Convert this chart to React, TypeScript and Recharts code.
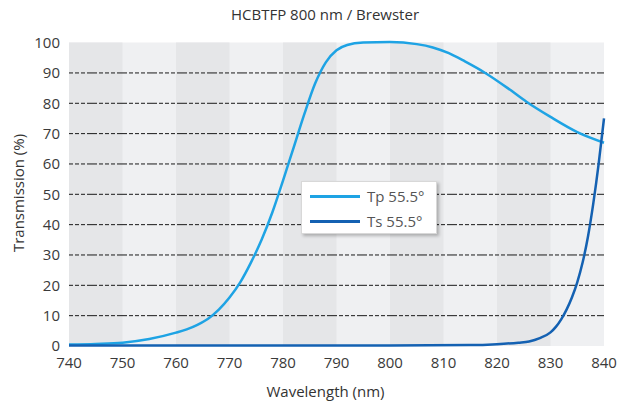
import { LineChart, Line, XAxis, YAxis, ReferenceArea, ReferenceLine, Label } from 'recharts';

const xTicks = [740, 750, 760, 770, 780, 790, 800, 810, 820, 830, 840];
const yTicks = [0, 10, 20, 30, 40, 50, 60, 70, 80, 90, 100];
const gridValues = [10, 20, 30, 40, 50, 60, 70, 80, 90];
const darkBands = [
  [740, 750],
  [760, 770],
  [780, 790],
  [800, 810],
  [820, 830],
];

const tpWavelength = [740, 745, 750, 755, 760, 762, 764, 766, 768, 770, 772, 774, 776, 778, 780, 782, 784, 786, 788, 790, 792, 795, 800, 805, 808, 811, 814, 817.8, 822, 825.5, 830, 835, 840];
const tpValues = [0.5, 0.7, 1.1, 2.3, 4.4, 5.5, 7, 9, 12, 16, 21, 27.5, 35, 44, 54.5, 65.5, 76.5, 86.5, 93.5, 97.5, 99.2, 100, 100.2, 99.5, 98.4, 96.5, 93.8, 90, 85, 80.5, 75.5, 70.5, 67];

const tsWavelength = [740, 760, 780, 800, 815, 820, 824, 826, 828, 830, 831, 832, 833, 834, 835, 836, 837, 838, 839, 840];
const tsValues = [0.2, 0.2, 0.2, 0.2, 0.3, 0.6, 1.1, 1.5, 2.6, 4.5, 6.3, 8.8, 12, 16, 21, 27.5, 36, 47, 60, 75];

const tpData = tpWavelength.map((w, i) => ({ w, v: tpValues[i] }));
const tsData = tsWavelength.map((w, i) => ({ w, v: tsValues[i] }));

const TP_COLOR = '#1ea3e4';
const TS_COLOR = '#1461b2';
const FONT = '"Open Sans", sans-serif';

export default function App() {
  return (
    <div style={{ position: 'absolute', left: 0, top: 0, width: 620, height: 405, background: '#fff', fontFamily: FONT }}>
      <div style={{ position: 'absolute', left: 0, width: 650, top: 4, textAlign: 'center', fontSize: 15, color: '#333' }}>
        HCBTFP 800 nm / Brewster
      </div>
      <LineChart width={620} height={405} margin={{ top: 42, right: 16, bottom: 0, left: 0 }}>
        <XAxis
          dataKey="w"
          type="number"
          domain={[740, 840]}
          ticks={xTicks}
          axisLine={false}
          tickLine={false}
          tickMargin={5}
          height={59}
          allowDuplicatedCategory={false}
          tick={{ fill: '#3a3a3a', fontSize: 15, fontFamily: FONT }}
        >
          <Label value="Wavelength (nm)" position="insideBottom" offset={8} dx={-11} style={{ fill: '#333', fontSize: 15, fontFamily: FONT }} />
        </XAxis>
        <YAxis
          type="number"
          domain={[0, 100]}
          ticks={yTicks}
          axisLine={false}
          tickLine={false}
          tickMargin={3}
          width={69}
          tick={{ fill: '#3a3a3a', fontSize: 15, fontFamily: FONT }}
        >
          <Label
            content={() => (
              <text x={18} y={193} transform="rotate(-90 18 193)" textAnchor="middle" dominantBaseline="central" style={{ fill: '#333', fontSize: 15, fontFamily: FONT }}>
                Transmission (%)
              </text>
            )}
          />
        </YAxis>
        <ReferenceArea x1={740} x2={840} y1={0} y2={100} fill="#eff0f2" fillOpacity={1} stroke="none" />
        {darkBands.map(([a, b]) => (
          <ReferenceArea key={a} x1={a} x2={b} y1={0} y2={100} fill="#e5e6e8" fillOpacity={1} stroke="none" />
        ))}
        {gridValues.map((g) => (
          <ReferenceLine key={g} y={g} stroke="#1a1a1a" strokeWidth={1} strokeDasharray="4 2 4 2 4 2 10 2" />
        ))}
        <Line data={tpData} dataKey="v" type="monotone" stroke={TP_COLOR} strokeWidth={2.5} dot={false} isAnimationActive={false} />
        <Line data={tsData} dataKey="v" type="monotone" stroke={TS_COLOR} strokeWidth={2.5} dot={false} isAnimationActive={false} />
      </LineChart>
      <div
        style={{
          position: 'absolute',
          left: 301,
          top: 181,
          width: 134,
          height: 51,
          background: '#fff',
          border: '1px solid #d8d8d8',
          boxShadow: '2px 2px 3px rgba(0,0,0,0.25)',
          fontSize: 15,
          color: '#555',
        }}
      >
        {[
          { name: 'Tp 55.5°', color: TP_COLOR },
          { name: 'Ts 55.5°', color: TS_COLOR },
        ].map((item, i) => (
          <div key={item.name} style={{ position: 'absolute', left: 8, top: 3 + i * 25, height: 22, display: 'flex', alignItems: 'center' }}>
            <span style={{ display: 'inline-block', width: 50, height: 3, background: item.color, marginRight: 7 }} />
            <span>{item.name}</span>
          </div>
        ))}
      </div>
    </div>
  );
}
